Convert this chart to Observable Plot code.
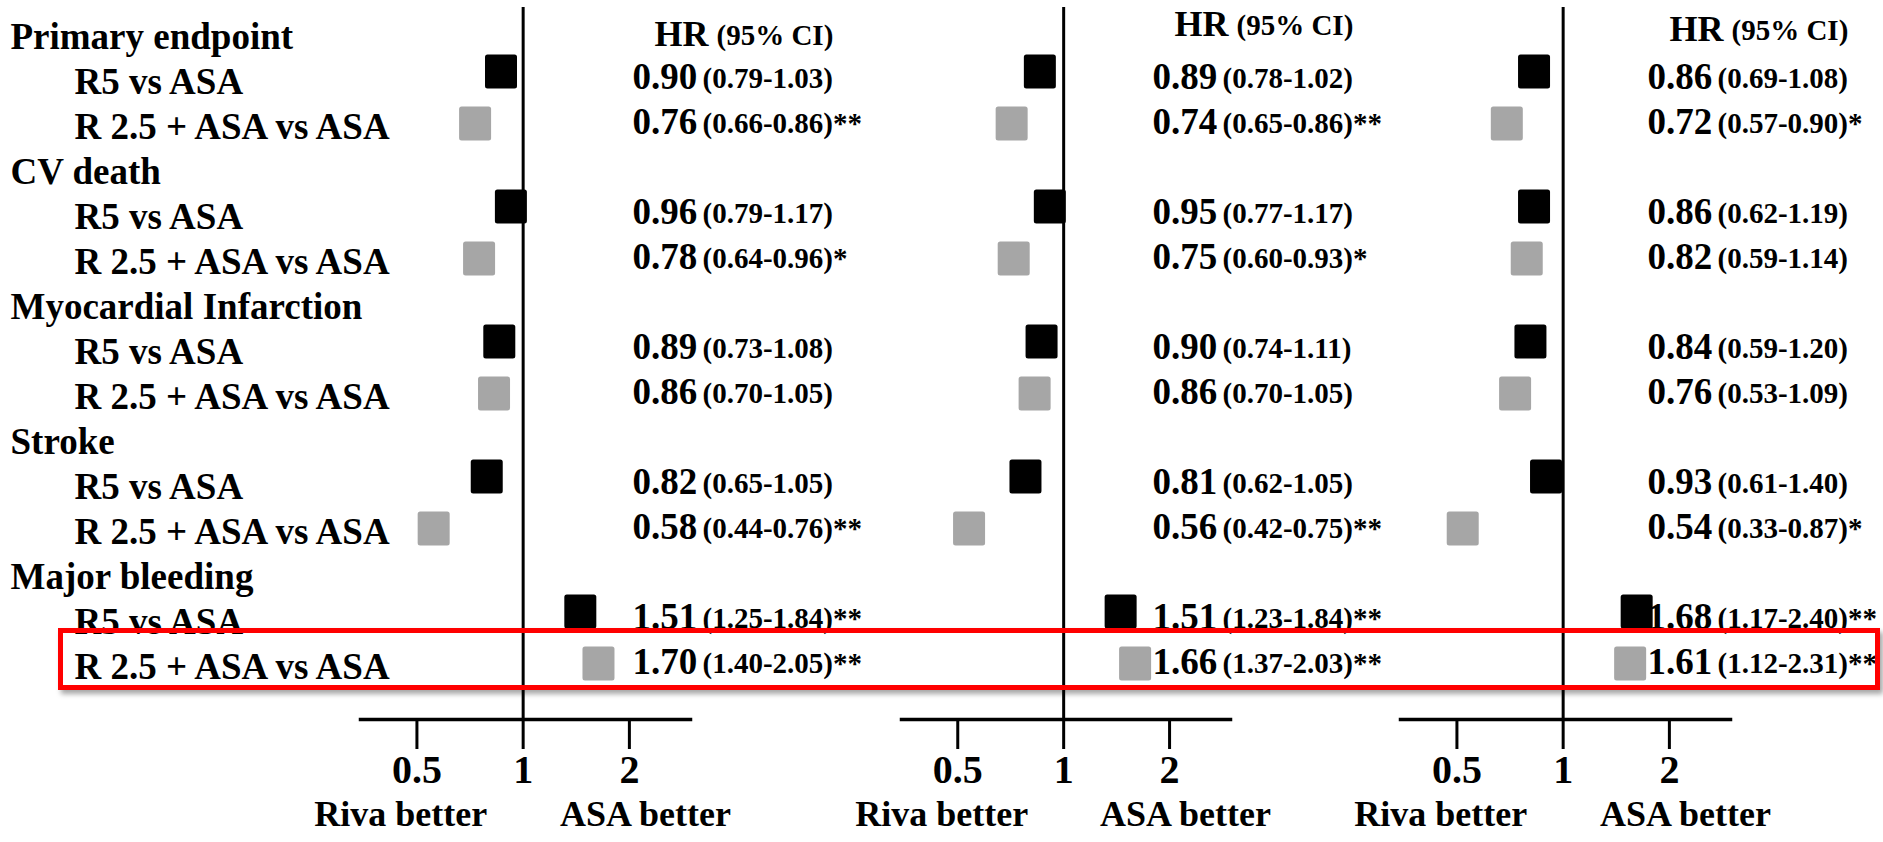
<!DOCTYPE html>
<html>
<head>
<meta charset="utf-8">
<script src="https://cdn.jsdelivr.net/npm/d3@7"></script>
<script src="https://cdn.jsdelivr.net/npm/@observablehq/plot@0.6"></script>
<style>
  html, body { margin: 0; padding: 0; background: #ffffff; }
  #wrap { position: relative; width: 1883px; height: 842px; overflow: hidden; background: #ffffff;
          font-family: "Liberation Serif", "Times New Roman", serif; }
  #wrap svg { position: absolute; top: 0; }
  #box { position: absolute; border: 5px solid #ff0000; box-sizing: border-box;
         box-shadow: 3px 4px 5px rgba(0,0,0,0.35); pointer-events: none; }
</style>
</head>
<body>
<div id="wrap"></div>
<script>
// ---------------- data ----------------
const outcomes = ["Primary endpoint", "CV death", "Myocardial Infarction", "Stroke", "Major bleeding"];
const comparisons = ["R5 vs ASA", "R 2.5 + ASA vs ASA"];

// order: for each outcome, R5 then R2.5
const hrA  = [0.90, 0.76, 0.96, 0.78, 0.89, 0.86, 0.82, 0.58, 1.51, 1.70];
const loA  = [0.79, 0.66, 0.79, 0.64, 0.73, 0.70, 0.65, 0.44, 1.25, 1.40];
const hiA  = [1.03, 0.86, 1.17, 0.96, 1.08, 1.05, 1.05, 0.76, 1.84, 2.05];
const sigA = ["", "**", "", "*", "", "", "", "**", "**", "**"];

const hrB  = [0.89, 0.74, 0.95, 0.75, 0.90, 0.86, 0.81, 0.56, 1.51, 1.66];
const loB  = [0.78, 0.65, 0.77, 0.60, 0.74, 0.70, 0.62, 0.42, 1.23, 1.37];
const hiB  = [1.02, 0.86, 1.17, 0.93, 1.11, 1.05, 1.05, 0.75, 1.84, 2.03];
const sigB = ["", "**", "", "*", "", "", "", "**", "**", "**"];

const hrC  = [0.86, 0.72, 0.86, 0.82, 0.84, 0.76, 0.93, 0.54, 1.68, 1.61];
const loC  = [0.69, 0.57, 0.62, 0.59, 0.59, 0.53, 0.61, 0.33, 1.17, 1.12];
const hiC  = [1.08, 0.90, 1.19, 1.14, 1.20, 1.09, 1.40, 0.87, 2.40, 2.31];
const sigC = ["", "*", "", "", "", "", "", "*", "**", "**"];

const xTicks = [0.5, 1, 2];
const betterLabels = ["Riva better", "ASA better"];
const headerMain = "HR";
const headerSub = "(95% CI)";
const highlightOutcome = "Major bleeding";
const highlightComparison = "R 2.5 + ASA vs ASA";

// ---------------- derived tables ----------------
const rows = [];
outcomes.forEach(o => {
  rows.push({id: o, label: o, header: true});
  comparisons.forEach(c => rows.push({id: o + "|" + c, label: c, header: false}));
});
const rowIds = rows.map(r => r.id);

function panelData(hr, lo, hi, sig) {
  const out = [];
  outcomes.forEach((o, i) => comparisons.forEach((c, j) => {
    const k = i * 2 + j;
    out.push({id: o + "|" + c, comp: j, hr: hr[k], lo: lo[k], hi: hi[k], sig: sig[k]});
  }));
  return out;
}

const FONT = "Liberation Serif";

// rounded rectangle symbol (fixed pixel size)
const roundedRect = {
  draw(ctx) {
    const w = 32, h = 34, r = 2.5;
    const x0 = -w / 2, y0 = -h / 2, x1 = w / 2, y1 = h / 2;
    ctx.moveTo(x0 + r, y0);
    ctx.lineTo(x1 - r, y0);
    ctx.arcTo(x1, y0, x1, y0 + r, r);
    ctx.lineTo(x1, y1 - r);
    ctx.arcTo(x1, y1, x1 - r, y1, r);
    ctx.lineTo(x0 + r, y1);
    ctx.arcTo(x0, y1, x0, y1 - r, r);
    ctx.lineTo(x0, y0 + r);
    ctx.arcTo(x0, y0, x0 + r, y0, r);
    ctx.closePath();
  }
};

const panels = [
  {left: 0,    width: 880, marginLeft: 360, marginRight: 190, numDx: 272, headDy: -3,  labels: true,  data: panelData(hrA, loA, hiA, sigA)},
  {left: 880,  width: 500, marginLeft: 21,  marginRight: 150, numDx: 251, headDy: -13, labels: false, data: panelData(hrB, loB, hiB, sigB)},
  {left: 1380, width: 503, marginLeft: 20,  marginRight: 153, numDx: 247, headDy: -8,  labels: false, data: panelData(hrC, loC, hiC, sigC)}
];

const wrap = document.getElementById("wrap");
let firstPlot = null;

panels.forEach(p => {
  const marks = [
    Plot.ruleX([1], {stroke: "black", strokeWidth: 3}),
    Plot.frame({anchor: "bottom", stroke: "black", strokeWidth: 3.5}),
    Plot.axisX({anchor: "bottom", ticks: xTicks, tickFormat: d => String(d), tickSize: 30, tickPadding: 5,
                strokeWidth: 3, fontSize: 40, fontWeight: "bold", fontFamily: FONT, label: null}),
    Plot.text(betterLabels, {x: [0.45, 2.22], text: d => d, frameAnchor: "bottom", dy: 106,
                             fontSize: 36, fontWeight: "bold", fontFamily: FONT, fill: "black"}),
    // squares
    Plot.dot(p.data.filter(d => d.comp === 0), {x: "hr", y: "id", symbol: roundedRect, r: 10,
             fill: "#000000", stroke: "none", dx: -6, dy: -11}),
    Plot.dot(p.data.filter(d => d.comp === 1), {x: "hr", y: "id", symbol: roundedRect, r: 10,
             fill: "#a6a6a6", stroke: "none", dx: -6, dy: -4}),
    // HR values
    Plot.text(p.data, {y: "id", text: d => d.hr.toFixed(2), frameAnchor: "left", dx: p.numDx, dy: -5,
             textAnchor: "start", fontSize: 37, fontWeight: "bold", fontFamily: FONT, fill: "black"}),
    Plot.text(p.data, {y: "id", text: d => `(${d.lo.toFixed(2)}-${d.hi.toFixed(2)})${d.sig}`, frameAnchor: "left",
             dx: p.numDx + 70, dy: -4, textAnchor: "start", fontSize: 29, fontWeight: "bold", fontFamily: FONT, fill: "black"}),
    // header
    Plot.text([rowIds[0]], {y: d => d, text: () => headerMain, frameAnchor: "left", dx: p.numDx + 22, dy: p.headDy,
             textAnchor: "start", fontSize: 36, fontWeight: "bold", fontFamily: FONT, fill: "black"}),
    Plot.text([rowIds[0]], {y: d => d, text: () => headerSub, frameAnchor: "left", dx: p.numDx + 84, dy: p.headDy + 1,
             textAnchor: "start", fontSize: 29, fontWeight: "bold", fontFamily: FONT, fill: "black"})
  ];
  if (p.labels) {
    marks.push(
      Plot.text(rows.filter(r => r.header), {y: "id", text: "label", frameAnchor: "left", dx: 10 - p.marginLeft,
               textAnchor: "start", fontSize: 37, fontWeight: "bold", fontFamily: FONT, fill: "black"}),
      Plot.text(rows.filter(r => !r.header), {y: "id", text: "label", frameAnchor: "left", dx: 74 - p.marginLeft,
               textAnchor: "start", fontSize: 37, fontWeight: "bold", fontFamily: FONT, fill: "black"})
    );
  }
  const chart = Plot.plot({
    width: p.width,
    height: 842,
    marginLeft: p.marginLeft,
    marginRight: p.marginRight,
    marginTop: 7,
    marginBottom: 123,
    style: {background: "transparent", overflow: "visible", fontFamily: FONT, color: "black"},
    x: {type: "log", domain: [0.346, 2.98]},
    y: {type: "point", domain: rowIds, range: [34, 670], padding: 0, axis: null},
    marks
  });
  chart.style.left = p.left + "px";
  wrap.appendChild(chart);
  if (!firstPlot) firstPlot = chart;
});

// highlight box around the chosen row, positioned from the y scale
const yScale = firstPlot.scale("y");
const yc = yScale.apply(highlightOutcome + "|" + highlightComparison);
const box = document.createElement("div");
box.id = "box";
box.style.left = "58px";
box.style.width = (1880 - 58) + "px";
box.style.top = (yc - 39) + "px";
box.style.height = "62px";
wrap.appendChild(box);
</script>
</body>
</html>
